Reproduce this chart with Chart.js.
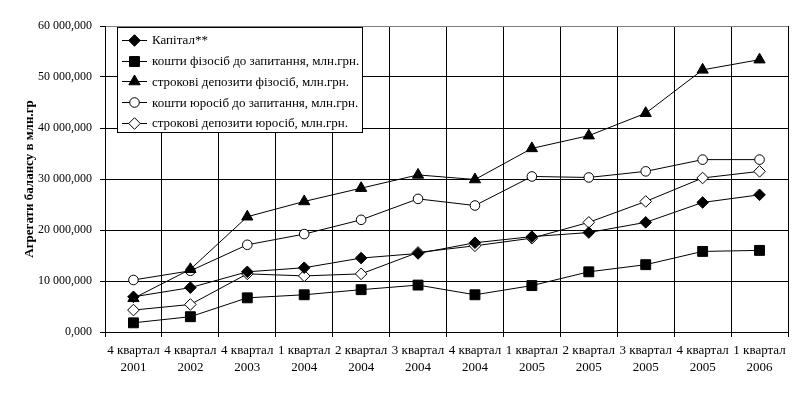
<!DOCTYPE html>
<html>
<head>
<meta charset="utf-8">
<script src="https://cdn.jsdelivr.net/npm/chart.js@4/dist/chart.umd.min.js"></script>
<style>
  html, body { margin: 0; padding: 0; background: #fff; }
  canvas { display: block; }
</style>
</head>
<body>
<canvas id="chart" width="796" height="394"></canvas>
<script>
// Дані (тис. одиниць, вісь показує "60 000,000")
const quarters = [
  ['4 квартал', '2001'], ['4 квартал', '2002'], ['4 квартал', '2003'],
  ['1 квартал', '2004'], ['2 квартал', '2004'], ['3 квартал', '2004'],
  ['4 квартал', '2004'], ['1 квартал', '2005'], ['2 квартал', '2005'],
  ['3 квартал', '2005'], ['4 квартал', '2005'], ['1 квартал', '2006'],
];

const seriesLabels = [
  'Капітал**',
  'кошти фізосіб до запитання, млн.грн.',
  'строкові депозити фізосіб, млн.грн.',
  'кошти юросіб до запитання, млн.грн.',
  'строкові депозити юросіб, млн.грн.',
];

const kapital   = [6900, 8700, 11800, 12600, 14500, 15400, 17500, 18700, 19500, 21500, 25400, 26900];
const fizDemand = [1800, 3000, 6700, 7300, 8300, 9200, 7300, 9100, 11800, 13200, 15800, 16000];
const fizTerm   = [6600, 12300, 22600, 25600, 28200, 30800, 29900, 36000, 38500, 42900, 51400, 53400];
const urDemand  = [10200, 12000, 17100, 19200, 22000, 26100, 24800, 30500, 30300, 31500, 33800, 33800];
const urTerm    = [4300, 5400, 11400, 11000, 11400, 15600, 16900, 18400, 21500, 25600, 30200, 31500];

const yTicks = [0, 10000, 20000, 30000, 40000, 50000, 60000];

const FONT = "'Liberation Serif', 'Times New Roman', serif";

function fmt(v) {
    const s = String(Math.round(v)).replace(/\B(?=(\d{3})+(?!\d))/g, ' ');
    return s + ',000';
}

function makeSet(label, data, style, radius, filled) {
    return {
        label: label,
        data: data,
        borderColor: '#000',
        borderWidth: 1,
        pointStyle: style,
        pointRadius: radius,
        pointHoverRadius: radius,
        pointBorderWidth: 1,
        pointBorderColor: '#000',
        pointBackgroundColor: filled ? '#000' : '#fff',
        tension: 0,
        fill: false,
    };
}

// Легенда всередині області графіка, з рамкою
const boxLegend = {
    id: 'boxLegend',
    afterDraw(chart) {
        const ctx = chart.ctx;
        const x0 = 117, y0 = 27, w = 245, h = 105;
        ctx.save();
        ctx.fillStyle = '#fff';
        ctx.fillRect(x0, y0, w, h);
        ctx.strokeStyle = '#000';
        ctx.lineWidth = 1;
        ctx.strokeRect(x0 + 0.5, y0 + 0.5, w, h);
        ctx.font = '13px ' + FONT;
        ctx.textBaseline = 'middle';
        ctx.textAlign = 'left';
        chart.data.datasets.forEach((ds, i) => {
            const y = 40 + i * 20.7;
            ctx.strokeStyle = '#000';
            ctx.beginPath();
            ctx.moveTo(122, Math.round(y) + 0.5);
            ctx.lineTo(147, Math.round(y) + 0.5);
            ctx.stroke();
            ctx.fillStyle = ds.pointBackgroundColor;
            ctx.strokeStyle = '#000';
            Chart.helpers.drawPoint(ctx, {
                pointStyle: ds.pointStyle,
                radius: ds.pointRadius,
                rotation: 0,
                borderWidth: 1,
            }, 134.5, Math.round(y) + 0.5);
            ctx.fillStyle = '#000';
            ctx.fillText(ds.label, 152, y + 1);
        });
        ctx.restore();
    },
};

new Chart(document.getElementById('chart'), {
    type: 'line',
    data: {
        labels: quarters,
        datasets: [
            makeSet(seriesLabels[0], kapital, 'rectRot', 5.8, true),
            makeSet(seriesLabels[1], fizDemand, 'rect', 7, true),
            makeSet(seriesLabels[2], fizTerm, 'triangle', 6.5, true),
            makeSet(seriesLabels[3], urDemand, 'circle', 4.8, false),
            makeSet(seriesLabels[4], urTerm, 'rectRot', 5.8, false),
        ],
    },
    options: {
        responsive: false,
        devicePixelRatio: 1,
        animation: false,
        layout: { padding: { top: 26, right: 8, left: 0, bottom: 0 } },
        plugins: {
            legend: { display: false },
            tooltip: { enabled: false },
        },
        scales: {
            x: {
                offset: true,
                grid: {
                    offset: true,
                    color: (c) => (c.index === quarters.length ? '#808080' : '#000'),
                    tickColor: '#000',
                    tickLength: 5,
                    lineWidth: 1,
                },
                border: { color: '#000' },
                ticks: {
                    color: '#000',
                    font: { family: FONT, size: 13, lineHeight: '17px' },
                    padding: 5,
                    maxRotation: 0,
                    autoSkip: false,
                },
                afterFit: (s) => { s.height = 62; },
            },
            y: {
                min: 0,
                max: 60000,
                afterBuildTicks: (s) => { s.ticks = yTicks.map((v) => ({ value: v })); },
                grid: {
                    color: (c) => (c.tick && c.tick.value === 60000 ? '#808080' : '#000'),
                    tickColor: '#000',
                    tickLength: 5,
                    lineWidth: 1,
                },
                border: { color: '#000' },
                ticks: {
                    color: '#000',
                    font: { family: FONT, size: 12 },
                    padding: 8,
                    callback: (v) => fmt(v),
                },
                title: {
                    display: true,
                    text: 'Агрегати балансу в млн.гр',
                    color: '#000',
                    font: { family: FONT, size: 13, weight: 'bold' },
                    padding: { top: 22, bottom: 0 },
                },
                afterFit: (s) => { s.width = 105; },
            },
        },
    },
    plugins: [boxLegend],
});
</script>
</body>
</html>
